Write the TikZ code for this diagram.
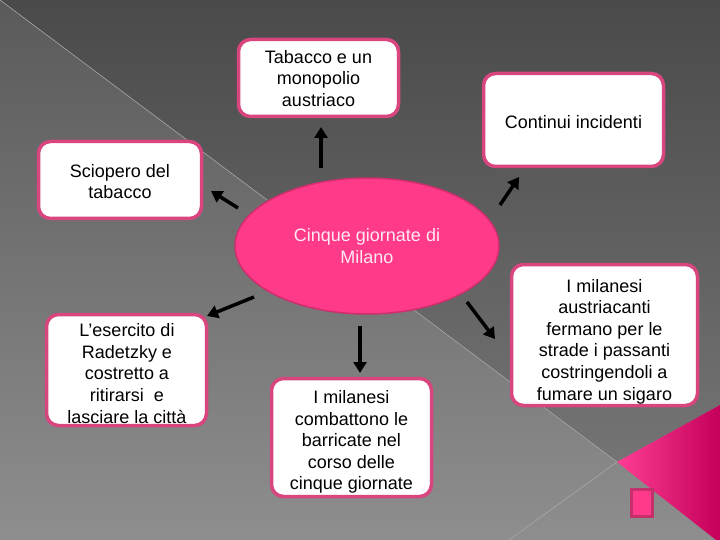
\documentclass[tikz,border=0pt]{standalone}
\usepackage{fontspec}
\setmainfont{Liberation Sans}
\usetikzlibrary{arrows.meta,shapes.geometric}
\definecolor{bgtop}{HTML}{5A5A5A}
\definecolor{bgbot}{HTML}{8E8E8E}
\definecolor{bgdtop}{HTML}{4A4A4A}
\definecolor{bgdbot}{HTML}{747474}
\definecolor{faint}{HTML}{A8A8A8}
\definecolor{boxborder}{HTML}{D8457F}
\definecolor{pinkfill}{HTML}{FF3A88}
\definecolor{pinkedge}{HTML}{D02E6E}
\definecolor{elltext}{HTML}{FFE8F2}
\definecolor{trileft}{HTML}{FF3D94}
\definecolor{triright}{HTML}{C4005A}
\definecolor{sqfill}{HTML}{FF3A8A}
\definecolor{sqedge}{HTML}{C4306C}
\tikzset{
  boxshape/.style={draw=boxborder, line width=3.5pt, fill=white, rounded corners=12pt, inner sep=0pt},
  txt/.style={align=center, font=\fontsize{18}{21.6}\selectfont, inner sep=0pt},
  arr/.style={line width=3.5pt, black, -{Triangle[length=11pt,width=13pt]}},
  faintline/.style={draw=faint, line width=0.6pt},
}
\begin{document}
\begin{tikzpicture}[x=1pt,y=-1pt]
\useasboundingbox (0,0) rectangle (720,540);
% background
\shade[top color=bgtop, bottom color=bgbot] (0,0) rectangle (720,540);
\shade[top color=bgdtop, bottom color=bgdbot] (0,0) -- (720,0) -- (720,405) -- (617,462) -- cycle;
\draw[faintline] (0,0) -- (617,462) -- (509,540);
\shade[left color=trileft, right color=triright] (617,462) -- (720,405) -- (720,540) -- (716,540) -- cycle;
\draw[sqedge, fill=sqfill, line width=3pt] (631,489.5) rectangle (652,516.5);

% central ellipse
\node[ellipse, fill=pinkfill, draw=pinkedge, line width=1.5pt, minimum width=264pt,
  minimum height=136pt, text=elltext, align=center, inner sep=0pt,
  font=\fontsize{18}{21.6}\selectfont] (cin) at (367,246) {Cinque giornate di\\Milano};

% boxes
\node[boxshape, minimum width=160pt, minimum height=77pt] (tabb) at (318.5,78) {};
\node[txt] (tab) at (318.5,78.5) {Tabacco e un\\monopolio\\austriaco};
\node[boxshape, minimum width=180pt, minimum height=93pt] (incb) at (573.5,120) {};
\node[txt] (inc) at (573.5,122) {Continui incidenti};
\node[boxshape, minimum width=163pt, minimum height=77pt] (scib) at (120,180) {};
\node[txt] (sci) at (120,181.5) {Sciopero del\\tabacco};
\node[boxshape, minimum width=160pt, minimum height=111pt] (eseb) at (126.5,370) {};
\node[txt] (ese) at (127,373.5) {L’esercito di\\Radetzky e\\costretto a\\ritirarsi\ \ e\\lasciare la città};
\node[boxshape, minimum width=160pt, minimum height=118pt] (comb) at (351.5,437.5) {};
\node[txt] (com) at (351.5,442) {I milanesi\\combattono le\\barricate nel\\corso delle\\cinque giornate};
\node[boxshape, minimum width=186pt, minimum height=141pt] (ausb) at (604.5,335) {};
\node[txt] (aus) at (604.5,341.5) {I milanesi\\austriacanti\\fermano per le\\strade i passanti\\costringendoli a\\fumare un sigaro};

% arrows
\coordinate (a1s) at (321,168); \coordinate (a1e) at (321,127);
\coordinate (a2s) at (500,205); \coordinate (a2e) at (519,177);
\coordinate (a3s) at (238,208); \coordinate (a3e) at (211,191);
\coordinate (a4s) at (254,297); \coordinate (a4e) at (207,316);
\coordinate (a5s) at (360,326); \coordinate (a5e) at (360,373);
\coordinate (a6s) at (467,302); \coordinate (a6e) at (495,339);
\draw[arr] (a1s) -- (a1e);
\draw[arr] (a2s) -- (a2e);
\draw[arr] (a3s) -- (a3e);
\draw[arr] (a4s) -- (a4e);
\draw[arr] (a5s) -- (a5e);
\draw[arr] (a6s) -- (a6e);
\end{tikzpicture}
\end{document}
